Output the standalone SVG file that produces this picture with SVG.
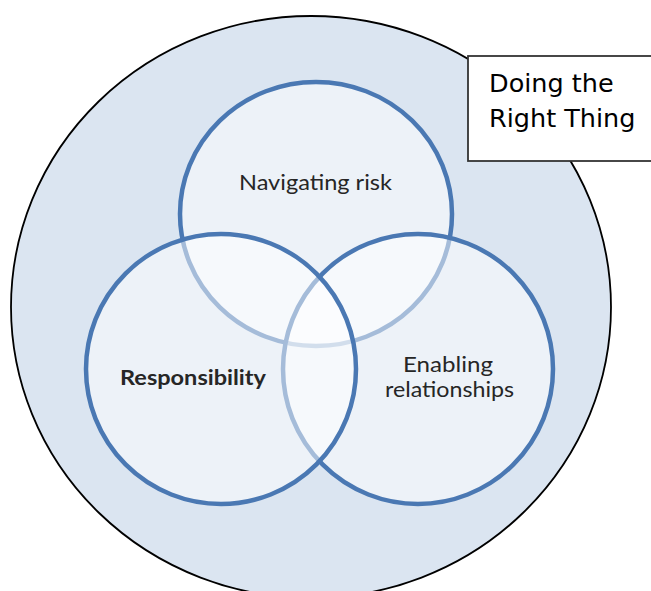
<svg xmlns="http://www.w3.org/2000/svg" width="651" height="591" viewBox="0 0 651 591">
  <style>
    .venn { fill: #ffffff; fill-opacity: 0.5; stroke: #4a78b3; stroke-width: 4.5; }
    .lbl { font-family: Lato, "Noto Sans", sans-serif; font-size: 21px; fill: #262626; text-anchor: middle; }
    .box { font-family: "DejaVu Sans", sans-serif; font-size: 25.5px; fill: #000000; }
  </style>
  <rect width="651" height="591" fill="#ffffff"/>
  <g id="outer">
    <ellipse cx="311" cy="307" rx="300" ry="291" fill="#dbe5f1" stroke="#000000" stroke-width="1.8"/>
  </g>
  <g id="navigating-risk">
    <ellipse class="venn" cx="316" cy="214" rx="136" ry="132"/>
    <text class="lbl" x="315.5" y="190" textLength="153" lengthAdjust="spacingAndGlyphs">Navigating risk</text>
  </g>
  <g id="enabling-relationships">
    <ellipse class="venn" cx="418" cy="369" rx="135" ry="135"/>
    <text class="lbl" x="448" y="372" textLength="90" lengthAdjust="spacingAndGlyphs">Enabling</text>
    <text class="lbl" x="449.5" y="397" textLength="129" lengthAdjust="spacingAndGlyphs">relationships</text>
  </g>
  <g id="responsibility">
    <ellipse class="venn" cx="221" cy="369" rx="135" ry="135"/>
    <text class="lbl" x="193" y="385" font-weight="bold" font-size="20" textLength="146" lengthAdjust="spacingAndGlyphs">Responsibility</text>
  </g>
  <g id="doing-the-right-thing">
    <rect x="468" y="56" width="200" height="105" fill="#ffffff" stroke="#333333" stroke-width="1.8"/>
    <text class="box" x="489" y="92">Doing the</text>
    <text class="box" x="489" y="127">Right Thing</text>
  </g>
  <g id="connectors"/>
</svg>
